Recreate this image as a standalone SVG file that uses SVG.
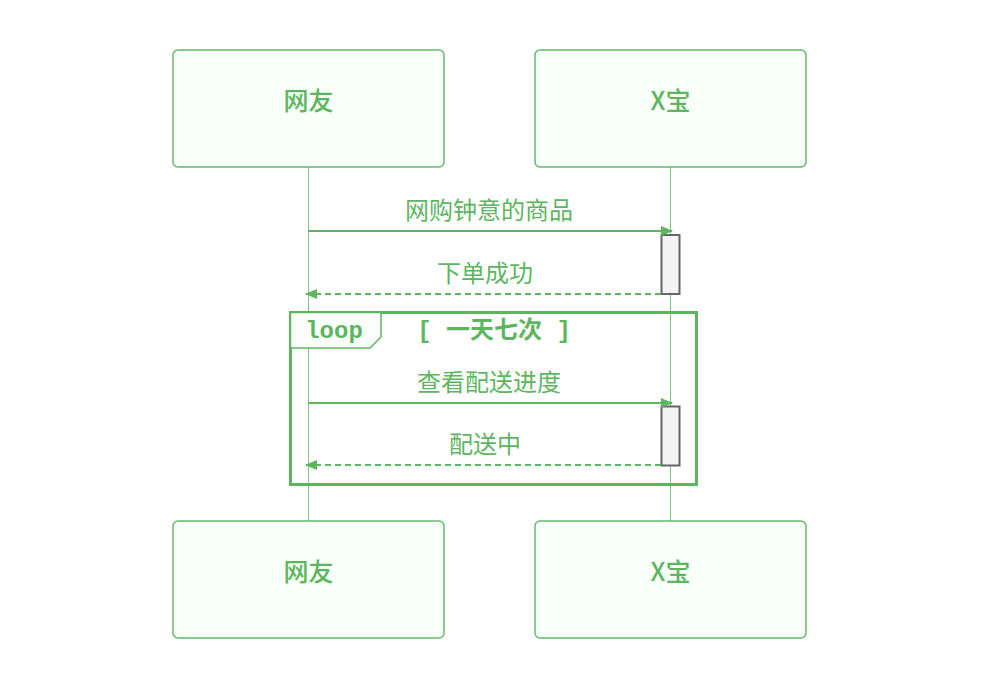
<svg xmlns="http://www.w3.org/2000/svg" width="996" height="690" viewBox="0 0 996 690">
<style>
.actor{fill:#f9fff9;stroke:#63bb6c;stroke-width:1.5}
.atext{fill:#5cb65f;font-family:"Noto Sans CJK SC","Liberation Sans",sans-serif;font-size:25px;font-weight:500;text-anchor:middle;dominant-baseline:central}
.life{stroke:#7cc883;stroke-width:1}
.msg{stroke:#5cb65f;stroke-width:2;fill:none}
.dash{stroke-dasharray:6 4}
.mtext{fill:#5cb65f;font-family:"Noto Sans CJK SC","Liberation Sans",sans-serif;font-size:24px;text-anchor:middle;dominant-baseline:central}
.act{fill:#f4f4f4;stroke:#666;stroke-width:2}
.loopbox{fill:none;stroke:#5cb65f;stroke-width:3}
.looptab{fill:#fbfffb;stroke:#5cb65f;stroke-width:1.5}
.ltext{fill:#5cb65f;font-family:"Liberation Mono","Noto Sans CJK SC",monospace;font-weight:bold;font-size:24px;text-anchor:middle;dominant-baseline:central}
</style>
<defs>
<marker id="arrow" viewBox="0 0 12 10" refX="11" refY="5" markerWidth="12" markerHeight="10" markerUnits="userSpaceOnUse" orient="auto">
<path d="M0,0 L12,5 L0,10 z" fill="#5cb65f"/>
</marker>
</defs>
<rect width="996" height="690" fill="#ffffff"/>
<g id="lifelines">
<line class="life" x1="308.5" y1="167" x2="308.5" y2="521"/>
<line class="life" x1="670.5" y1="167" x2="670.5" y2="521"/>
</g>
<g id="actor-wangyou-top"><rect class="actor" x="173" y="50" width="271" height="117" rx="5"/><text class="atext" x="308.5" y="99">网友</text></g>
<g id="actor-xbao-top"><rect class="actor" x="535" y="50" width="271" height="117" rx="5"/><text class="atext" x="670.5" y="99">X宝</text></g>
<g id="actor-wangyou-bottom"><rect class="actor" x="173" y="521" width="271" height="117" rx="5"/><text class="atext" x="308.5" y="570">网友</text></g>
<g id="actor-xbao-bottom"><rect class="actor" x="535" y="521" width="271" height="117" rx="5"/><text class="atext" x="670.5" y="570">X宝</text></g>
<g id="activations">
<rect class="act" x="661.5" y="235" width="18" height="59"/>
<rect class="act" x="661.5" y="406.5" width="18" height="59"/>
</g>
<g id="loop">
<rect class="loopbox" x="290.5" y="312.5" width="406" height="172"/>
<polygon class="looptab" points="290.5,312.5 381,312.5 381,337 370,348 290.5,348"/>
<text class="ltext" x="334" y="331">loop</text>
<text class="ltext" x="494" y="331" xml:space="preserve">[ 一天七次 ]</text>
</g>
<g id="connectors">
<line class="msg" x1="308.5" y1="231" x2="672" y2="231" marker-end="url(#arrow)"/>
<line class="msg dash" x1="661" y1="294" x2="306" y2="294" marker-end="url(#arrow)"/>
<line class="msg" x1="308.5" y1="403" x2="672" y2="403" marker-end="url(#arrow)"/>
<line class="msg dash" x1="661" y1="465" x2="306" y2="465" marker-end="url(#arrow)"/>
</g>
<g id="labels">
<text class="mtext" x="489" y="208">网购钟意的商品</text>
<text class="mtext" x="485" y="271">下单成功</text>
<text class="mtext" x="489" y="380">查看配送进度</text>
<text class="mtext" x="485" y="442">配送中</text>
</g>
</svg>
